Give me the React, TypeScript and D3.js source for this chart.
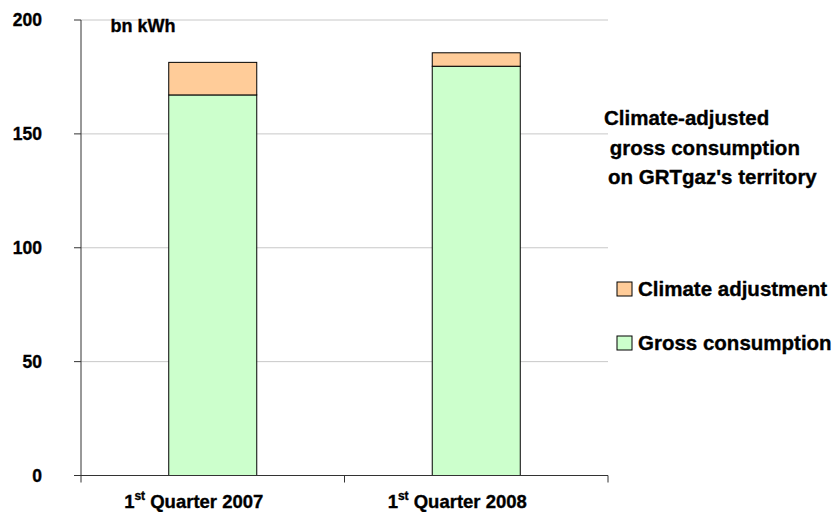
import React from "react";
import * as d3 from "d3";

// Quarterly gas consumption on GRTgaz's territory (bn kWh)
const categories = ["2007", "2008"];
const grossConsumption = [167.1, 179.7];
const climateAdjustment = [14.3, 5.9];
const yTicks = [0, 50, 100, 150, 200];
const seriesNames = ["Climate adjustment", "Gross consumption"];
const seriesColors = ["#FFCC99", "#CCFFCC"];
const titleLines = ["Climate-adjusted", " gross consumption", "on GRTgaz's territory"];

const W = 839;
const H = 512;
const FONT = "Arial, 'Liberation Sans', Helvetica, sans-serif";

// heavier bold text
const textStyle = { stroke: "#000", strokeWidth: 0.35, whiteSpace: "pre" as const };

export default function App() {
  const x = d3.scaleBand<string>().domain(categories).range([81, 608]).padding(0);
  const y = d3.scaleLinear().domain([0, 200]).range([475.5, 20]);
  const barW = x.bandwidth() * 0.334;

  const stacked = categories.map((c, i) => ({
    cat: c,
    gross: grossConsumption[i],
    climate: climateAdjustment[i],
  }));

  const tickPositions = [...categories.map((c) => x(c) as number), 608];

  return (
    <svg
      width={W}
      height={H}
      style={{ position: "absolute", left: 0, top: 0, background: "#fff" }}
      fontFamily={FONT}
      fontWeight="bold"
    >
      {/* gridlines */}
      {yTicks.filter((t) => t > 0).map((t) => (
        <line key={"g" + t} x1={81} x2={608} y1={y(t)} y2={y(t)} stroke="#c8c8c8" strokeWidth={1} />
      ))}

      {/* stacked bars */}
      {stacked.map((d) => {
        const cx = (x(d.cat) as number) + x.bandwidth() / 2;
        return (
          <g key={d.cat}>
            <rect
              x={cx - barW / 2}
              y={y(d.gross)}
              width={barW}
              height={y(0) - y(d.gross)}
              fill={seriesColors[1]}
              stroke="#000"
              strokeWidth={1}
            />
            <rect
              x={cx - barW / 2}
              y={y(d.gross + d.climate)}
              width={barW}
              height={y(d.gross) - y(d.gross + d.climate)}
              fill={seriesColors[0]}
              stroke="#000"
              strokeWidth={1}
            />
          </g>
        );
      })}

      {/* y axis */}
      <line x1={81} x2={81} y1={y(200)} y2={y(0)} stroke="#333" strokeWidth={1} />
      {yTicks.map((t) => (
        <g key={"y" + t}>
          <line x1={74} x2={81} y1={y(t)} y2={y(t)} stroke="#333" strokeWidth={1} />
          <text x={42} y={y(t)} dy="0.36em" textAnchor="end" fontSize={17.5} fill="#000" style={textStyle}>
            {t}
          </text>
        </g>
      ))}

      {/* x axis */}
      <line x1={74} x2={608} y1={y(0)} y2={y(0)} stroke="#333" strokeWidth={1} />
      {tickPositions.map((p, i) => (
        <line key={"xt" + i} x1={p} x2={p} y1={y(0)} y2={y(0) + 7} stroke="#333" strokeWidth={1} />
      ))}
      {categories.map((c) => {
        const cx = (x(c) as number) + x.bandwidth() / 2;
        return (
          <text key={"xl" + c} x={cx - 19} y={507.5} textAnchor="middle" fontSize={18.5} fill="#000" style={textStyle}>
            1
            <tspan fontSize={12} dy={-8}>st</tspan>
            <tspan dy={8}>{" Quarter " + c}</tspan>
          </text>
        );
      })}

      {/* unit */}
      <text x={110.5} y={32.3} fontSize={18} fill="#000" style={textStyle}>bn kWh</text>

      {/* title */}
      {titleLines.map((l, i) => (
        <text key={"t" + i} x={i === 2 ? 608 : 604} y={125 + i * 29.5} fontSize={20.5} fill="#000" style={textStyle}>
          {l}
        </text>
      ))}

      {/* legend */}
      {seriesNames.map((n, i) => (
        <g key={"lg" + i} transform={`translate(617, ${282 + i * 54})`}>
          <rect x={0} y={0} width={15} height={14} fill={seriesColors[i]} stroke="#000" strokeWidth={1} />
          <text x={21} y={13.5} fontSize={20.5} fill="#000" style={textStyle}>{n}</text>
        </g>
      ))}
    </svg>
  );
}
